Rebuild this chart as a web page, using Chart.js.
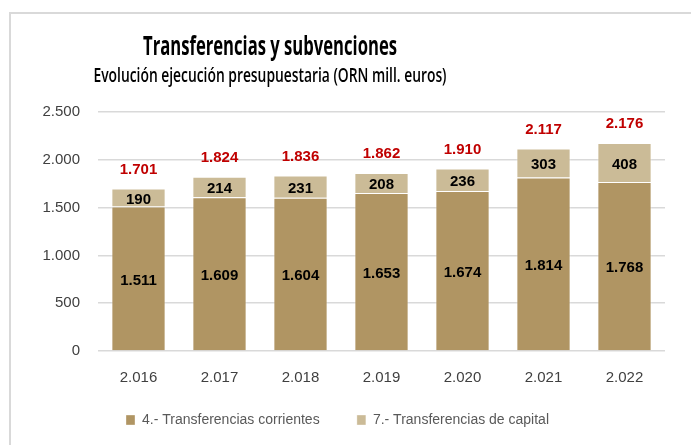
<!DOCTYPE html>
<html>
<head>
<meta charset="utf-8">
<script src="https://cdn.jsdelivr.net/npm/chart.js@4.4.1/dist/chart.umd.min.js"></script>
<style>
  html, body { margin: 0; padding: 0; background: #fff; }
  #wrap { position: relative; width: 691px; height: 445px; }
  #frame { position: absolute; left: 9px; top: 12px; right: 0; bottom: 0;
           border-top: 2px solid #d9d9d9; border-left: 2px solid #d9d9d9; pointer-events: none; }
  canvas { position: absolute; left: 0; top: 0; }
</style>
</head>
<body>
<div id="wrap">
  <canvas id="c" width="691" height="445"></canvas>
  <div id="frame"></div>
</div>
<script>
const categories = ['2.016', '2.017', '2.018', '2.019', '2.020', '2.021', '2.022'];
const corrientes = [1511, 1609, 1604, 1653, 1674, 1814, 1768];
const capital = [190, 214, 231, 208, 236, 303, 408];
const totals = [1701, 1824, 1836, 1862, 1910, 2117, 2176];
const yTicks = [0, 500, 1000, 1500, 2000, 2500];
const titleText = 'Transferencias y subvenciones';
const subtitleText = 'Evolución ejecución presupuestaria (ORN mill. euros)';
const seriesNames = ['4.- Transferencias corrientes', '7.- Transferencias de capital'];

function fmt(v) {
  return String(v).replace(/\B(?=(\d{3})+(?!\d))/g, '.');
}

const labelPlugin = {
  id: 'labels',
  afterDatasetsDraw(chart) {
    const ctx = chart.ctx;
    ctx.save();
    ctx.textAlign = 'center';
    ctx.textBaseline = 'middle';
    ctx.font = 'bold 15px "Liberation Sans", Arial, sans-serif';
    ctx.fillStyle = '#000';
    chart.data.datasets.forEach((ds, di) => {
      const meta = chart.getDatasetMeta(di);
      meta.data.forEach((el, i) => {
        ctx.fillText(fmt(ds.data[i]), el.x, (el.y + el.base) / 2 + 2);
      });
    });
    const top = chart.getDatasetMeta(chart.data.datasets.length - 1);
    ctx.fillStyle = '#C00000';
    top.data.forEach((el, i) => {
      ctx.fillText(fmt(totals[i]), el.x, el.y - 19);
    });
    ctx.restore();
  },
  afterDraw(chart) {
    const ctx = chart.ctx;
    ctx.save();
    ctx.textAlign = 'center';
    ctx.textBaseline = 'alphabetic';
    ctx.fillStyle = '#000';
    ctx.font = 'bold 27px "Open Sans", Arial, sans-serif';
    ctx.fillText(titleText, 270, 55, 254);
    ctx.font = '600 20px "Open Sans", Arial, sans-serif';
    ctx.fillText(subtitleText, 270, 82, 353);
    ctx.restore();
  }
};

new Chart(document.getElementById('c'), {
  type: 'bar',
  data: {
    labels: categories,
    datasets: [
      { label: seriesNames[0], data: corrientes, backgroundColor: '#B09563',
        borderColor: 'rgba(255,255,255,0.35)', borderWidth: 1 },
      { label: seriesNames[1], data: capital, backgroundColor: '#CBBB97',
        borderColor: 'rgba(255,255,255,0.35)', borderWidth: 1 }
    ]
  },
  options: {
    responsive: false,
    animation: false,
    layout: { padding: { left: 10, right: 26, top: 112, bottom: 8 } },
    datasets: { bar: { categoryPercentage: 1, barPercentage: 0.67 } },
    scales: {
      x: {
        stacked: true,
        grid: { display: false },
        border: { display: false },
        afterFit: (s) => { s.height = 52; },
        ticks: { color: '#404040', padding: 10, font: { family: '"Liberation Sans", Arial, sans-serif', size: 15 } }
      },
      y: {
        stacked: true,
        min: 0, max: 2500,
        afterBuildTicks: (s) => { s.ticks = yTicks.map(v => ({ value: v })); },
        afterFit: (s) => { s.width = 88; },
        grid: { color: '#d9d9d9', lineWidth: 1.5, drawTicks: false },
        border: { display: false },
        ticks: { color: '#404040', padding: 18, callback: (v) => fmt(v),
                 font: { family: '"Liberation Sans", Arial, sans-serif', size: 15 } }
      }
    },
    plugins: {
      title: { display: false },
      tooltip: { enabled: false },
      legend: {
        position: 'bottom',
        labels: {
          color: '#595959', boxWidth: 9, boxHeight: 10, padding: 10,
          font: { family: '"Liberation Sans", Arial, sans-serif', size: 14 },
          generateLabels: (chart) => {
            const items = Chart.defaults.plugins.legend.labels.generateLabels(chart);
            items.forEach((it, i) => { if (i < items.length - 1) it.text = it.text + '       '; });
            return items;
          }
        }
      }
    }
  },
  plugins: [labelPlugin]
});
</script>
</body>
</html>
